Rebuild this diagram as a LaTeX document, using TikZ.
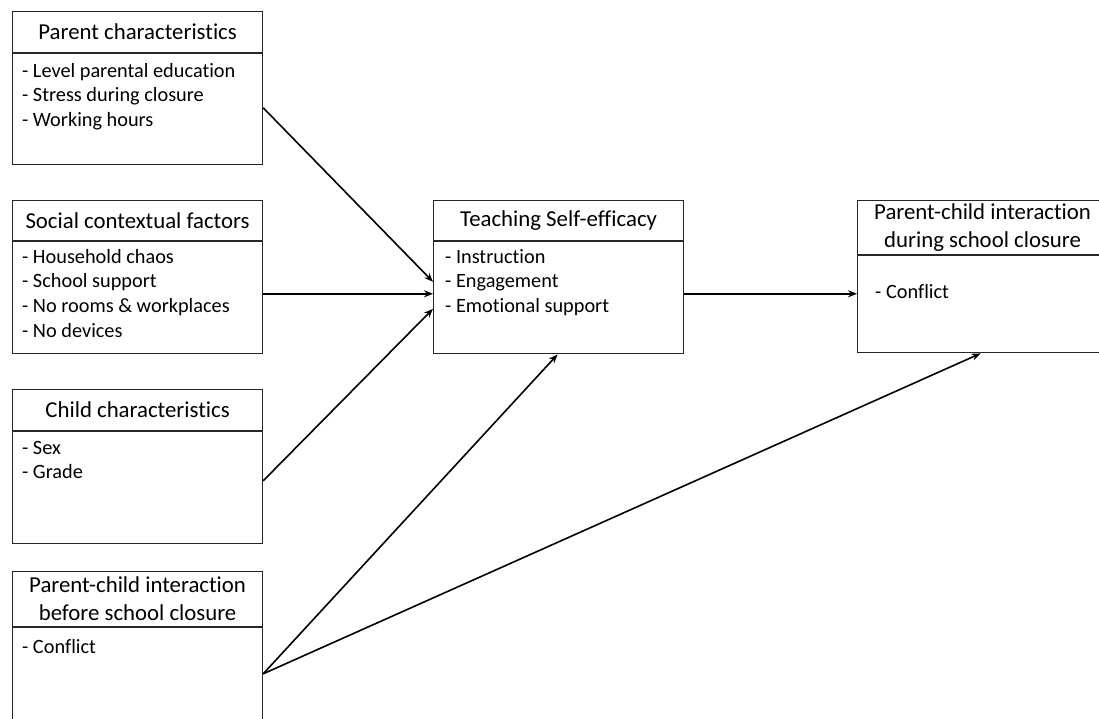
\documentclass[tikz,border=0pt]{standalone}
\usepackage{fontspec}
\setmainfont[Ligatures={NoCommon}]{Carlito}
\usetikzlibrary{arrows.meta,calc}
\begin{document}
\begin{tikzpicture}[x=1pt,y=-1pt,
  hdr/.style={draw=black!85, line width=1.2pt, anchor=north west, minimum width=250pt, inner sep=0pt, font=\fontsize{22.8}{28}\selectfont, align=center},
  bdy/.style={draw=black!85, line width=1.2pt, anchor=north west, minimum width=250pt, inner sep=0pt},
  items/.style={anchor=north west, inner sep=0pt, align=left, font=\fontsize{20.3}{24.6}\selectfont},
  arr/.style={-{Stealth[length=9pt,width=7pt]}, line width=1.6pt}
]
\useasboundingbox (0,0) rectangle (1099,718);

% Parent characteristics
\node[hdr, minimum height=41pt] (p1h) at (12,11) {Parent characteristics};
\node[bdy, minimum height=111pt] (p1) at (p1h.south west) {};
\node[items] (p1t) at (22,63) {- Level parental education\\- Stress during closure\\- Working hours};

% Social contextual factors
\node[hdr, minimum height=40pt] (sch) at (12,200) {Social contextual factors};
\node[bdy, minimum height=112pt] (sc) at (sch.south west) {};
\node[items] (sct) at (22,249) {- Household chaos\\- School support\\- No rooms \& workplaces\\- No devices};

% Child characteristics
\node[hdr, minimum height=41pt] (cch) at (12,389) {Child characteristics};
\node[bdy, minimum height=112pt] (cc) at (cch.south west) {};
\node[items] (cct) at (22,441) {- Sex\\- Grade};

% Parent-child interaction before
\node[hdr, minimum height=55pt] (pbh) at (12,571) {Parent-child interaction\\before school closure};
\node[bdy, minimum height=110pt] (pb) at (pbh.south west) {};
\node[items] (pbt) at (22,639) {- Conflict};

% Teaching self-efficacy
\node[hdr, minimum height=40pt] (tsh) at (433,200) {Teaching Self-efficacy};
\node[bdy, minimum height=112pt] (ts) at (tsh.south west) {};
\node[items] (tst) at (445,249) {- Instruction\\- Engagement\\- Emotional support};

% Parent-child interaction during
\node[hdr, minimum height=54pt] (pdh) at (857,200) {Parent-child interaction\\during school closure};
\node[bdy, minimum height=97pt] (pd) at (pdh.south west) {};
\node[items] (pdt) at (875,284) {- Conflict};

% connectors
\coordinate (pbout) at ([yshift=9pt]pb.east);
\draw[arr] ([yshift=1.5pt]p1.east) -- ([yshift=16pt]ts.west);
\draw[arr] ([yshift=4pt]sc.east) -- ([yshift=4pt]ts.west);
\draw[arr] ([yshift=7pt]cc.east) -- ([yshift=-11pt]ts.west);
\draw[arr] (pbout) -- ([xshift=-1pt]ts.south);
\draw[arr] (pbout) -- ([xshift=-2pt]pd.south);
\draw[arr] ([yshift=4pt]ts.east) -- ([yshift=10.5pt]pd.west);
\end{tikzpicture}
\end{document}
